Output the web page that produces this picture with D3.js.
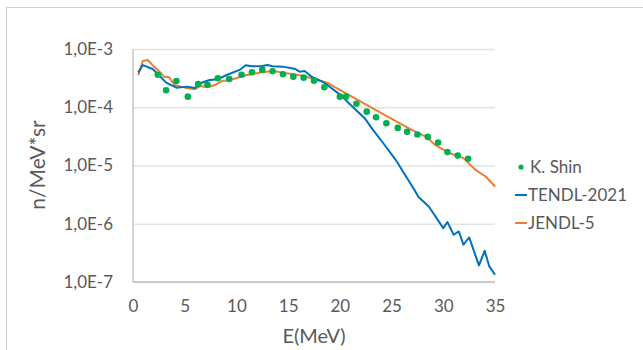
<!DOCTYPE html>
<html>
<head>
<meta charset="utf-8">
<script src="https://cdn.jsdelivr.net/npm/d3@7"></script>
<style>
  body { margin: 0; background: #fff; }
  svg { display: block; font-family: Lato, "Liberation Sans", sans-serif; }
  .grid line { stroke: #e3e3e3; stroke-width: 1.3; }
  .grid path { display: none; }
  .tick text { fill: #595959; }
</style>
</head>
<body>
<svg width="643" height="350"></svg>
<script>
// K. Shin (measured)
var shinE = [2.4, 3.2, 4.2, 5.3, 6.3, 7.2, 8.2, 9.3, 10.5, 11.5, 12.5, 13.5, 14.5, 15.5, 16.5, 17.5, 18.5,
             20.0, 20.6, 21.6, 22.6, 23.5, 24.5, 25.6, 26.5, 27.5, 28.5, 29.5, 30.4, 31.4, 32.4];
var shinV = [3.62e-4, 1.96e-4, 2.83e-4, 1.52e-4, 2.51e-4, 2.44e-4, 3.15e-4, 3.06e-4, 3.62e-4, 3.99e-4, 4.42e-4,
             4.15e-4, 3.68e-4, 3.35e-4, 3.22e-4, 2.86e-4, 2.21e-4, 1.52e-4, 1.52e-4, 1.15e-4, 8.4e-5, 6.74e-5,
             5.32e-5, 4.42e-5, 3.78e-5, 3.40e-5, 3.10e-5, 2.48e-5, 1.70e-5, 1.48e-5, 1.30e-5];

// TENDL-2021
var tendlE = [0.5, 0.95, 1.9, 2.6, 3.2, 4.2, 5.2, 6.0, 6.5, 7.4, 8.2, 9.0, 10.3, 10.9, 11.5, 12.5, 13.0, 13.5,
              14.5, 15.7, 16.1, 16.6, 17.3, 18.5, 20.05, 21.2, 22.4, 23.2, 24.2, 25.2, 25.5, 26.4, 27.2, 27.6,
              28.6, 30.0, 30.4, 31.0, 31.5, 31.95, 32.5, 33.45, 34.0, 34.45, 35.0];
var tendlV = [3.93e-4, 5.3e-4, 4.54e-4, 3.44e-4, 2.64e-4, 2.17e-4, 2.26e-4, 2.14e-4, 2.58e-4, 2.94e-4, 3.02e-4,
              3.54e-4, 4.37e-4, 5.25e-4, 5.04e-4, 5.1e-4, 5.3e-4, 5.04e-4, 4.98e-4, 4.54e-4, 4.08e-4, 4.19e-4,
              3.31e-4, 2.64e-4, 1.63e-4, 1.03e-4, 6.49e-5, 4.09e-5, 2.41e-5, 1.39e-5, 1.17e-5, 6.47e-6, 3.83e-6,
              2.87e-6, 1.98e-6, 8.43e-7, 1.07e-6, 6.47e-7, 7.38e-7, 4.36e-7, 5.82e-7, 1.93e-7, 3.44e-7, 1.85e-7, 1.33e-7];

// JENDL-5
var jendlE = [0.5, 0.95, 1.43, 1.94, 2.41, 3.0, 3.5, 4.0, 5.0, 6.0, 6.5, 7.2, 8.0, 8.6, 9.4, 10.9, 12.5, 13.5,
              14.5, 16.1, 17.3, 18.9, 19.7, 20.85, 22.8, 24.8, 26.8, 28.4, 29.2, 30.4, 31.95, 33.1, 34.1, 35.0];
var jendlV = [3.54e-4, 6.22e-4, 6.48e-4, 5.18e-4, 4.37e-4, 3.35e-4, 3.27e-4, 2.41e-4, 2.17e-4, 2.04e-4, 2.32e-4,
              2.2e-4, 2.44e-4, 2.82e-4, 2.94e-4, 3.54e-4, 3.98e-4, 4.2e-4, 3.93e-4, 3.54e-4, 3.14e-4, 2.58e-4,
              2.12e-4, 1.63e-4, 1.05e-4, 6.65e-5, 4.2e-5, 3.06e-5, 2.26e-5, 1.69e-5, 1.34e-5, 8.43e-6, 6.47e-6, 4.36e-6];

var xTicks = [0, 5, 10, 15, 20, 25, 30, 35];
var yTicks = [1e-7, 1e-6, 1e-5, 1e-4, 1e-3];
var yTickLabels = ["1,0E-7", "1,0E-6", "1,0E-5", "1,0E-4", "1,0E-3"];

var svg = d3.select("svg"),
    margin = {top: 49, right: 148, bottom: 68, left: 133},
    width = 643 - margin.left - margin.right,
    height = 350 - margin.top - margin.bottom;

// outer frame (top + left edges visible)
svg.append("path")
    .attr("d", "M6.5,350 V7.5 H643")
    .attr("fill", "none")
    .attr("stroke", "#d0d0d0")
    .attr("stroke-width", 1.2);

var g = svg.append("g").attr("transform", "translate(" + margin.left + "," + margin.top + ")");

var x = d3.scaleLinear().domain([0, 35]).range([0, width]);
var y = d3.scaleLog().domain([1e-7, 1e-3]).range([height, 0]);

// horizontal gridlines
g.append("g")
    .attr("class", "grid")
    .call(d3.axisLeft(y).tickValues(yTicks).tickSize(-width).tickFormat(""));

// axis lines
g.append("line")
    .attr("x1", 0).attr("x2", 0).attr("y1", 0).attr("y2", height)
    .attr("stroke", "#bfbfbf").attr("stroke-width", 1.3);
g.append("line")
    .attr("x1", 0).attr("x2", width).attr("y1", height).attr("y2", height)
    .attr("stroke", "#bfbfbf").attr("stroke-width", 1.3);

// y tick labels
var yAxis = g.append("g")
    .call(d3.axisLeft(y).tickValues(yTicks).tickSize(0).tickPadding(20)
        .tickFormat(function(d, i) { return yTickLabels[i]; }));
yAxis.select(".domain").remove();
yAxis.selectAll("text").attr("font-size", 17).attr("font-family", "Lato, sans-serif");

// x tick labels
var xAxis = g.append("g")
    .attr("transform", "translate(0," + height + ")")
    .call(d3.axisBottom(x).tickValues(xTicks).tickSize(0).tickPadding(18));
xAxis.select(".domain").remove();
xAxis.selectAll("text").attr("font-size", 17).attr("font-family", "Lato, sans-serif");

// axis titles
svg.append("text")
    .attr("x", 314).attr("y", 343)
    .attr("text-anchor", "middle")
    .attr("fill", "#595959")
    .attr("font-size", 20)
    .text("E(MeV)");

svg.append("text")
    .attr("transform", "translate(45,165) rotate(-90)")
    .attr("text-anchor", "middle")
    .attr("fill", "#595959")
    .attr("font-size", 21)
    .text("n/MeV*sr");

var line = d3.line()
    .x(function(d) { return x(d[0]); })
    .y(function(d) { return y(d[1]); });

g.append("path")
    .datum(d3.zip(jendlE, jendlV))
    .attr("fill", "none")
    .attr("stroke", "#ED7D31")
    .attr("stroke-width", 2)
    .attr("stroke-linejoin", "round")
    .attr("d", line);

g.append("path")
    .datum(d3.zip(tendlE, tendlV))
    .attr("fill", "none")
    .attr("stroke", "#0070C0")
    .attr("stroke-width", 2)
    .attr("stroke-linejoin", "round")
    .attr("d", line);

g.selectAll(".shin")
    .data(d3.zip(shinE, shinV))
    .enter().append("circle")
    .attr("class", "shin")
    .attr("cx", function(d) { return x(d[0]); })
    .attr("cy", function(d) { return y(d[1]); })
    .attr("r", 3.3)
    .attr("fill", "#00B050");

// legend
var legend = svg.append("g").attr("transform", "translate(515,0)");
var items = [
    {name: "K. Shin", color: "#00B050", type: "dot", y: 167},
    {name: "TENDL-2021", color: "#0070C0", type: "line", y: 195},
    {name: "JENDL-5", color: "#ED7D31", type: "line", y: 223}
];
items.forEach(function(it) {
    if (it.type === "dot") {
        legend.append("circle").attr("cx", 6).attr("cy", it.y).attr("r", 2.6).attr("fill", it.color);
    } else {
        legend.append("line").attr("x1", 0).attr("x2", 12).attr("y1", it.y).attr("y2", it.y)
            .attr("stroke", it.color).attr("stroke-width", 2);
    }
    legend.append("text")
        .attr("x", it.type === "dot" ? 15 : 13)
        .attr("y", it.y)
        .attr("dy", "0.35em")
        .attr("fill", "#595959")
        .attr("font-size", 17)
        .text(it.name);
});
</script>
</body>
</html>
